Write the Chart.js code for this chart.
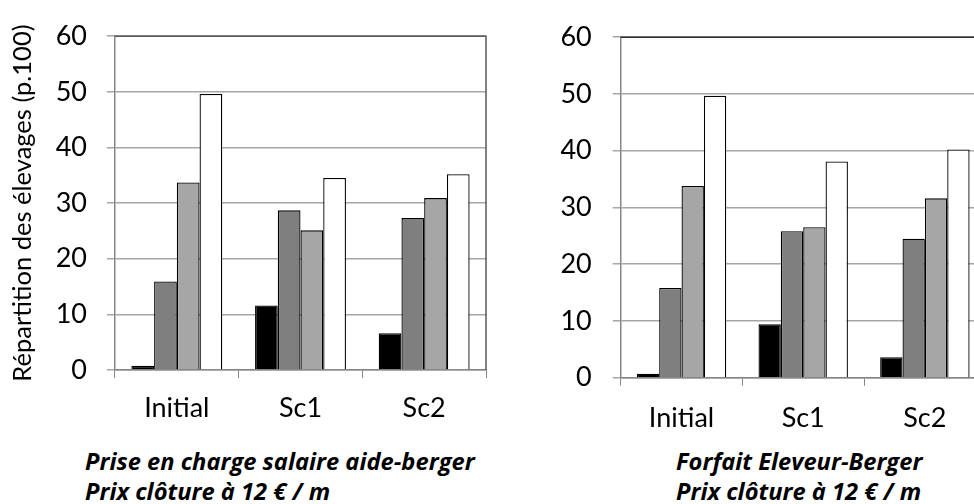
<!DOCTYPE html>
<html>
<head>
<meta charset="utf-8">
<script src="https://cdn.jsdelivr.net/npm/chart.js@4/dist/chart.umd.min.js"></script>
<style>
  html, body { margin: 0; padding: 0; background: #fff; overflow: hidden; }
  body { width: 974px; height: 504px; position: relative; font-family: Lato, sans-serif; }
  .box { position: absolute; top: 0; width: 500px; height: 440px; }
  .caption { position: absolute; font: italic bold 23.7px "Open Sans", sans-serif; line-height: 30px; color: #000; white-space: nowrap; }
</style>
</head>
<body>
<div class="box" style="left:0"><canvas id="left"></canvas></div>
<div class="box" style="left:500px"><canvas id="right"></canvas></div>
<div class="caption" style="left:85px; top:446px">Prise en charge salaire aide-berger<br>Prix clôture à 12 € / m</div>
<div class="caption" style="left:676px; top:446px">Forfait Eleveur-Berger<br>Prix clôture à 12 € / m</div>
<script>
const categories = ['Initial', 'Sc1', 'Sc2'];
const yTicks = [0, 10, 20, 30, 40, 50, 60];

// left panel: Prise en charge salaire aide-berger
const leftBlack = [0.75, 11.6, 6.6];
const leftDark = [15.9, 28.7, 27.3];
const leftLight = [33.7, 25.1, 30.9];
const leftWhite = [49.6, 34.5, 35.2];

// right panel: Forfait Eleveur-Berger
const rightBlack = [0.7, 9.4, 3.6];
const rightDark = [15.8, 25.8, 24.5];
const rightLight = [33.8, 26.5, 31.6];
const rightWhite = [49.7, 38.1, 40.2];

const fills = ['#000000', '#7f7f7f', '#a6a6a6', '#ffffff'];

// top and right edges of the plot area
const plotFrame = {
    id: 'plotFrame',
    afterDraw(chart, args, opts) {
        const { ctx, chartArea: a } = chart;
        ctx.save();
        ctx.strokeStyle = opts.color || '#404040';
        ctx.lineWidth = 1.5;
        ctx.beginPath();
        ctx.moveTo(a.left, a.top);
        ctx.lineTo(a.right, a.top);
        ctx.lineTo(a.right, a.bottom);
        ctx.stroke();
        ctx.restore();
    }
};

function makeChart(id, series, o) {
    const ctx = document.getElementById(id).getContext('2d');
    return new Chart(ctx, {
        type: 'bar',
        data: {
            labels: categories,
            datasets: series.map((values, i) => ({
                data: values,
                backgroundColor: fills[i],
                borderColor: '#000',
                borderWidth: 1.3,
                categoryPercentage: 0.735,
                barPercentage: 1
            }))
        },
        options: {
            responsive: true,
            maintainAspectRatio: false,
            animation: false,
            layout: { padding: { top: o.top, right: o.right, left: 0, bottom: 0 } },
            plugins: {
                legend: { display: false },
                tooltip: { enabled: false },
                plotFrame: { color: o.frame }
            },
            scales: {
                x: {
                    afterFit: (s) => { s.height = o.xHeight; },
                    grid: { offset: true, drawOnChartArea: false, tickLength: 8, color: '#868686' },
                    border: { color: '#868686', width: 1.5 },
                    ticks: { color: '#000', font: { family: 'Lato', size: 27 }, padding: o.xPad }
                },
                y: {
                    min: 0,
                    max: 60,
                    afterFit: (s) => { s.width = o.yWidth; },
                    afterBuildTicks: (s) => { s.ticks = yTicks.map(v => ({ value: v })); },
                    grid: { color: '#a6a6a6', lineWidth: 1.5, tickLength: 8 },
                    border: { color: '#868686', width: 1.5 },
                    ticks: { color: '#000', font: { family: 'Lato', size: 27 }, padding: o.yPad },
                    title: {
                        display: !!o.yTitle,
                        text: o.yTitle || '',
                        color: '#000',
                        font: { family: 'Lato', size: 25.5 },
                        padding: { top: 7, bottom: 0 }
                    }
                }
            }
        },
        plugins: [plotFrame]
    });
}

makeChart('left', [leftBlack, leftDark, leftLight, leftWhite], {
    top: 26, right: 14, xHeight: 70, yWidth: 115, xPad: 14, yPad: 20,
    frame: '#5a5a5a', yTitle: 'Répartition des élevages (p.100)'
});
makeChart('right', [rightBlack, rightDark, rightLight, rightWhite], {
    top: 32, right: 14.3, xHeight: 62.3, yWidth: 120.7, xPad: 16, yPad: 21,
    frame: '#303030'
});
</script>
</body>
</html>
